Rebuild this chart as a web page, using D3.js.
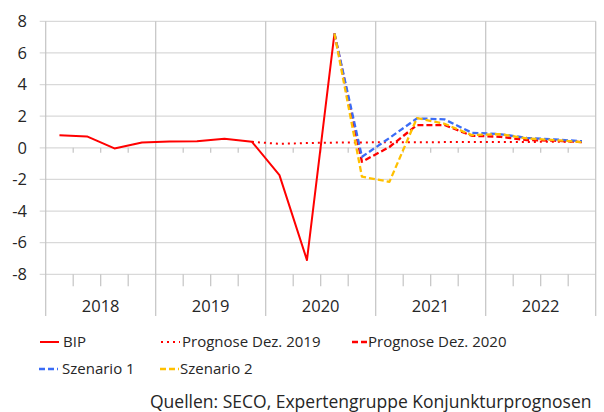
<!DOCTYPE html>
<html>
<head>
<meta charset="utf-8">
<script src="https://cdn.jsdelivr.net/npm/d3@7"></script>
<style>
  body { margin: 0; background: #fff; }
  text { font-family: "Open Sans", Lato, sans-serif; fill: #262626; }
</style>
</head>
<body>
<div id="chart"></div>
<script>
// 1. SETUP
const width = 604;
const height = 412;

// --- DATA ---
const years = ["2018", "2019", "2020", "2021", "2022"];
const quarters = years.flatMap(y => ["Q1", "Q2", "Q3", "Q4"].map(q => y + q));
const yTicks = [-8, -6, -4, -2, 0, 2, 4, 6, 8];

const bip      = [0.8, 0.72, -0.04, 0.34, 0.4, 0.42, 0.57, 0.38, -1.73, -7.1, 7.23,
                  null, null, null, null, null, null, null, null, null];
const prog2019 = [null, null, null, null, null, null, null, 0.38, 0.25, 0.3,
                  0.33, 0.34, 0.35, 0.35, 0.36, 0.36, 0.37, 0.37, 0.38, 0.38];
const prog2020 = [null, null, null, null, null, null, null, null, null, null,
                  7.23, -0.88, 0.05, 1.44, 1.44, 0.76, 0.7, 0.49, 0.45, 0.36];
const szen1    = [null, null, null, null, null, null, null, null, null, null,
                  7.23, -0.57, 0.62, 1.86, 1.8, 0.95, 0.87, 0.63, 0.53, 0.42];
const szen2    = [null, null, null, null, null, null, null, null, null, null,
                  7.23, -1.83, -2.15, 1.88, 1.52, 0.8, 0.87, 0.59, 0.49, 0.36];

const series = [
    { name: "BIP", values: bip, color: "#ff0000", dash: null, w: 2 },
    { name: "Prognose Dez. 2019", values: prog2019, color: "#ff0000", dash: "2,4", w: 2 },
    { name: "Prognose Dez. 2020", values: prog2020, color: "#ff0000", dash: "6,3", w: 2.3 },
    { name: "Szenario 1", values: szen1, color: "#3b6cf6", dash: "6,3", w: 2.3 },
    { name: "Szenario 2", values: szen2, color: "#ffc000", dash: "6,3", w: 2.3 }
];

const svg = d3.select("#chart")
    .append("svg")
    .attr("width", width)
    .attr("height", height);

// --- SCALES ---
const x = d3.scaleBand()
    .domain(quarters)
    .range([45.7, 595.7]);

const xYear = d3.scaleBand()
    .domain(years)
    .range([45.7, 595.7]);

const y = d3.scaleLinear()
    .domain([-8, 8])
    .range([274.3, 21.3]);

const left = 45.7, right = 595.7;

// --- GRID ---
svg.append("g")
    .selectAll("line")
    .data(yTicks)
    .join("line")
    .attr("x1", left - 6)
    .attr("x2", right)
    .attr("y1", d => y(d))
    .attr("y2", d => y(d))
    .attr("stroke", "#d9d9d9")
    .attr("stroke-width", 1.3);

// year separators (run down through the label area)
svg.append("g")
    .selectAll("line")
    .data(years.concat(["end"]))
    .join("line")
    .attr("x1", (d, i) => i < years.length ? xYear(d) : right)
    .attr("x2", (d, i) => i < years.length ? xYear(d) : right)
    .attr("y1", y(8))
    .attr("y2", 316)
    .attr("stroke", "#c4c4c4")
    .attr("stroke-width", 1.2);

// quarter ticks on zero line and on bottom line
const qTicks = quarters.filter((d, i) => i % 4 !== 0);
svg.append("g")
    .selectAll("line")
    .data(qTicks)
    .join("line")
    .attr("x1", d => x(d))
    .attr("x2", d => x(d))
    .attr("y1", y(0))
    .attr("y2", y(0) + 5)
    .attr("stroke", "#c4c4c4")
    .attr("stroke-width", 1.2);

svg.append("g")
    .selectAll("line")
    .data(qTicks)
    .join("line")
    .attr("x1", d => x(d))
    .attr("x2", d => x(d))
    .attr("y1", y(-8))
    .attr("y2", y(-8) + 12)
    .attr("stroke", "#c4c4c4")
    .attr("stroke-width", 1.2);

// --- AXIS LABELS ---
svg.append("g")
    .selectAll("text")
    .data(yTicks)
    .join("text")
    .attr("x", 27)
    .attr("y", d => y(d))
    .attr("dy", "0.35em")
    .attr("text-anchor", "end")
    .attr("font-size", "16.5px")
    .text(d => d);

svg.append("g")
    .selectAll("text")
    .data(years)
    .join("text")
    .attr("x", d => xYear(d) + xYear.bandwidth() / 2)
    .attr("y", 311.5)
    .attr("text-anchor", "middle")
    .attr("font-size", "16.5px")
    .text(d => d);

// --- LINES ---
const line = d3.line()
    .defined(d => d != null)
    .x((d, i) => x(quarters[i]) + x.bandwidth() / 2)
    .y(d => y(d));

svg.append("g")
    .selectAll("path")
    .data(series)
    .join("path")
    .attr("d", d => line(d.values))
    .attr("fill", "none")
    .attr("stroke", d => d.color)
    .attr("stroke-width", d => d.w)
    .attr("stroke-dasharray", d => d.dash)
    .attr("stroke-linejoin", "round");

// --- LEGEND ---
const legendPos = [
    { x: 40, y: 342, tx: 63 },
    { x: 161, y: 342, tx: 182 },
    { x: 352, y: 342, tx: 368 },
    { x: 39, y: 369, tx: 62 },
    { x: 160, y: 369, tx: 180 }
];

const legend = svg.append("g")
    .selectAll("g")
    .data(series)
    .join("g")
    .attr("transform", (d, i) => `translate(${legendPos[i].x}, ${legendPos[i].y})`);

legend.append("line")
    .attr("x1", 0)
    .attr("x2", 19)
    .attr("stroke", d => d.color)
    .attr("stroke-width", d => d.w)
    .attr("stroke-dasharray", d => d.dash);

legend.append("text")
    .attr("x", (d, i) => legendPos[i].tx - legendPos[i].x)
    .attr("dy", "0.35em")
    .attr("font-size", "15px")
    .text(d => d.name);

// source note
svg.append("text")
    .attr("x", 150)
    .attr("y", 408)
    .attr("font-size", "17.5px")
    .text("Quellen: SECO, Expertengruppe Konjunkturprognosen");
</script>
</body>
</html>
